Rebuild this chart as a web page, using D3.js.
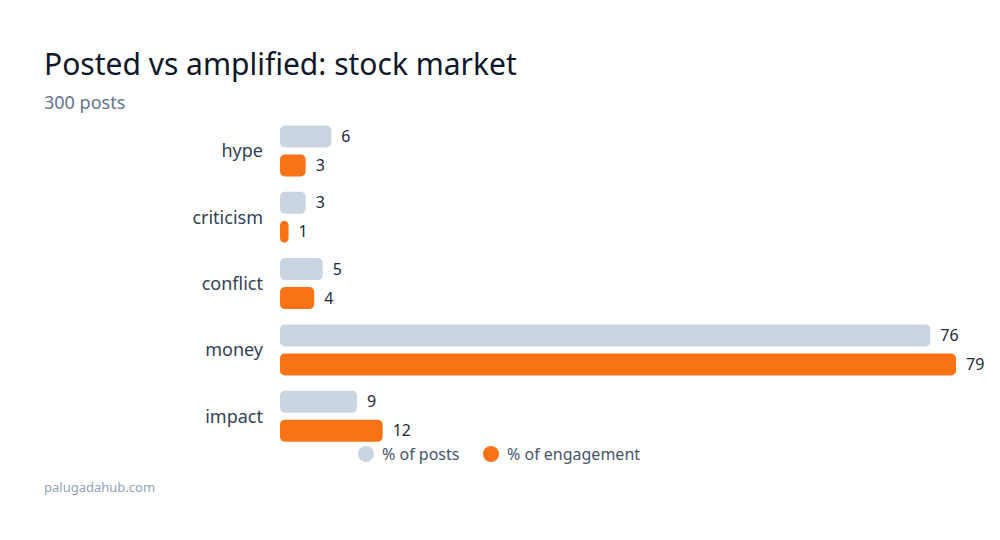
<!DOCTYPE html>
<meta charset="utf-8">
<script src="https://d3js.org/d3.v7.min.js"></script>
<style>
  body { margin: 0; background: #fff; }
  text { font-family: "Noto Sans", "Open Sans", sans-serif; }
</style>
<div id="chart"></div>
<script>
// data
var categories = ["hype", "criticism", "conflict", "money", "impact"];
var series = ["% of posts", "% of engagement"];
var postsPct = [6, 3, 5, 76, 9];
var engagementPct = [3, 1, 4, 79, 12];
var colors = ["#cbd5e1", "#f97316"];

var width = 1000, height = 540;

var svg = d3.select("#chart").append("svg")
  .attr("width", width)
  .attr("height", height);

// title + subtitle
svg.append("text")
  .attr("x", 44).attr("y", 75)
  .style("font-size", "30px")
  .style("fill", "#0f172a")
  .text("Posted vs amplified: stock market");
svg.append("text")
  .attr("x", 44).attr("y", 109)
  .style("font-size", "18px")
  .style("fill", "#64748b")
  .text("300 posts");

var x = d3.scaleLinear()
  .domain([0, 79])
  .range([280, 956]);

var y = d3.scaleBand()
  .domain(categories)
  .range([117.5, 449]);

var y1 = d3.scaleBand()
  .domain(series)
  .range([8, 59])
  .paddingInner(0.24);

var rows = categories.map(function(c, i) {
  return { cat: c, vals: [postsPct[i], engagementPct[i]] };
});

var g = svg.selectAll(".row")
  .data(rows)
  .enter().append("g")
  .attr("class", "row")
  .attr("transform", function(d) { return "translate(0," + y(d.cat) + ")"; });

// category labels
g.append("text")
  .attr("x", 263)
  .attr("y", y.bandwidth() / 2 + 0.5)
  .attr("dy", "0.35em")
  .attr("text-anchor", "end")
  .style("font-size", "18px")
  .style("fill", "#334155")
  .text(function(d) { return d.cat; });

var bars = g.selectAll(".bar")
  .data(function(d) { return d.vals.map(function(v, j) { return { s: series[j], v: v, j: j }; }); })
  .enter();

bars.append("rect")
  .attr("x", x(0))
  .attr("y", function(d) { return y1(d.s); })
  .attr("width", function(d) { return x(d.v) - x(0); })
  .attr("height", y1.bandwidth())
  .attr("rx", 5)
  .attr("fill", function(d) { return colors[d.j]; });

bars.append("text")
  .attr("x", function(d) { return x(d.v) + 10; })
  .attr("y", function(d) { return y1(d.s) + y1.bandwidth() / 2; })
  .attr("dy", "0.35em")
  .style("font-size", "16px")
  .style("fill", "#1e293b")
  .text(function(d) { return d.v; });

// legend
var legendX = [366, 491];
var leg = svg.selectAll(".leg")
  .data(series)
  .enter().append("g")
  .attr("class", "leg")
  .attr("transform", function(d, i) { return "translate(" + legendX[i] + ",454)"; });
leg.append("circle")
  .attr("r", 8)
  .attr("fill", function(d, i) { return colors[i]; });
leg.append("text")
  .attr("x", 16)
  .attr("dy", "0.35em")
  .style("font-size", "16px")
  .style("fill", "#475569")
  .text(function(d) { return d; });

// footer
svg.append("text")
  .attr("x", 44).attr("y", 492)
  .style("font-size", "13px")
  .style("fill", "#94a3b8")
  .text("palugadahub.com");
</script>
